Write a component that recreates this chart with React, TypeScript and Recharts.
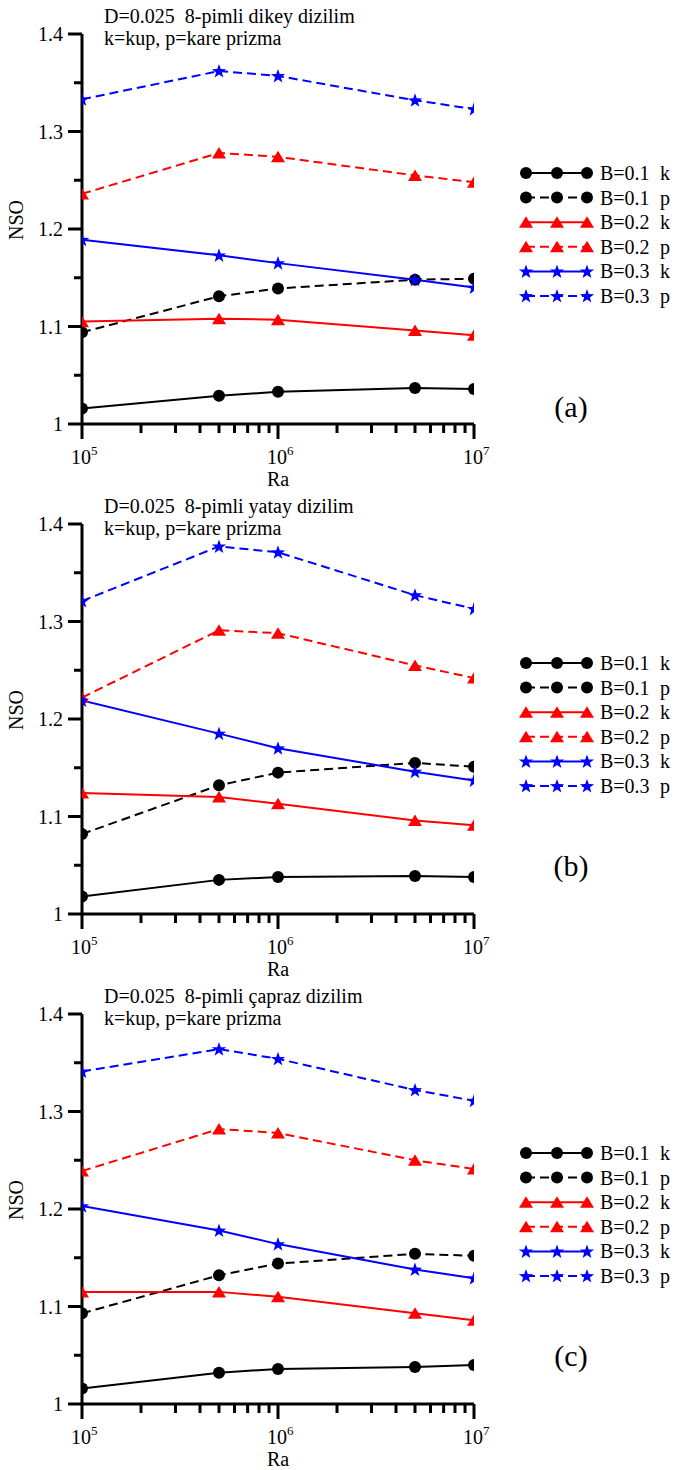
import React from "react";
import { LineChart, Line, XAxis, YAxis } from "recharts";

// Ra values on the x axis (log scale)
const raValues = [1e5, 5e5, 1e6, 5e6, 1e7];
const xTicks = [
  1e5, 2e5, 3e5, 4e5, 5e5, 6e5, 7e5, 8e5, 9e5,
  1e6, 2e6, 3e6, 4e6, 5e6, 6e6, 7e6, 8e6, 9e6, 1e7,
];
const xMajorTicks = [1e5, 1e6, 1e7];
const yTicks = [1, 1.05, 1.1, 1.15, 1.2, 1.25, 1.3, 1.35, 1.4];
const yMajorTicks = [1, 1.1, 1.2, 1.3, 1.4];

// (a) 8-pimli dikey dizilim
const dikeyB01k = [1.016, 1.029, 1.033, 1.037, 1.036];
const dikeyB01p = [1.094, 1.131, 1.139, 1.148, 1.149];
const dikeyB02k = [1.105, 1.108, 1.107, 1.096, 1.091];
const dikeyB02p = [1.236, 1.278, 1.274, 1.255, 1.248];
const dikeyB03k = [1.189, 1.173, 1.165, 1.148, 1.14];
const dikeyB03p = [1.333, 1.362, 1.357, 1.332, 1.323];

// (b) 8-pimli yatay dizilim
const yatayB01k = [1.018, 1.035, 1.038, 1.039, 1.038];
const yatayB01p = [1.082, 1.132, 1.145, 1.155, 1.151];
const yatayB02k = [1.124, 1.12, 1.113, 1.096, 1.091];
const yatayB02p = [1.222, 1.291, 1.288, 1.255, 1.242];
const yatayB03k = [1.219, 1.185, 1.17, 1.146, 1.137];
const yatayB03p = [1.321, 1.377, 1.371, 1.327, 1.313];

// (c) 8-pimli çapraz dizilim
const caprazB01k = [1.016, 1.032, 1.036, 1.038, 1.04];
const caprazB01p = [1.093, 1.132, 1.144, 1.154, 1.152];
const caprazB02k = [1.115, 1.115, 1.11, 1.093, 1.086];
const caprazB02p = [1.239, 1.282, 1.278, 1.25, 1.241];
const caprazB03k = [1.203, 1.178, 1.164, 1.138, 1.129];
const caprazB03p = [1.341, 1.364, 1.354, 1.322, 1.311];

const FONT = "Liberation Serif";

type Shape = "circle" | "triangle" | "star";

const seriesDefs: { key: string; label: string; suffix: string; color: string; dashed: boolean; shape: Shape }[] = [
  { key: "b01k", label: "B=0.1", suffix: "k", color: "#000", dashed: false, shape: "circle" },
  { key: "b01p", label: "B=0.1", suffix: "p", color: "#000", dashed: true, shape: "circle" },
  { key: "b02k", label: "B=0.2", suffix: "k", color: "#f00", dashed: false, shape: "triangle" },
  { key: "b02p", label: "B=0.2", suffix: "p", color: "#f00", dashed: true, shape: "triangle" },
  { key: "b03k", label: "B=0.3", suffix: "k", color: "#00f", dashed: false, shape: "star" },
  { key: "b03p", label: "B=0.3", suffix: "p", color: "#00f", dashed: true, shape: "star" },
];

const buildRows = (cols: number[][]) =>
  raValues.map((ra, i) => ({
    ra,
    b01k: cols[0][i],
    b01p: cols[1][i],
    b02k: cols[2][i],
    b02p: cols[3][i],
    b03k: cols[4][i],
    b03p: cols[5][i],
  }));

const panels = [
  {
    title: "D=0.025  8-pimli dikey dizilim",
    tag: "(a)",
    tagY: 417,
    rows: buildRows([dikeyB01k, dikeyB01p, dikeyB02k, dikeyB02p, dikeyB03k, dikeyB03p]),
  },
  {
    title: "D=0.025  8-pimli yatay dizilim",
    tag: "(b)",
    tagY: 386,
    rows: buildRows([yatayB01k, yatayB01p, yatayB02k, yatayB02p, yatayB03k, yatayB03p]),
  },
  {
    title: "D=0.025  8-pimli çapraz dizilim",
    tag: "(c)",
    tagY: 386,
    rows: buildRows([caprazB01k, caprazB01p, caprazB02k, caprazB02p, caprazB03k, caprazB03p]),
  },
];

const starPoints = (cx: number, cy: number, ro: number, ri: number) => {
  const pts: string[] = [];
  for (let i = 0; i < 10; i++) {
    const r = i % 2 === 0 ? ro : ri;
    const a = -Math.PI / 2 + (i * Math.PI) / 5;
    pts.push(`${(cx + r * Math.cos(a)).toFixed(2)},${(cy + r * Math.sin(a)).toFixed(2)}`);
  }
  return pts.join(" ");
};

const marker = (k: string, cx: number, cy: number, shape: Shape, color: string) => {
  if (shape === "circle") return <circle key={k} cx={cx} cy={cy} r={6} fill={color} />;
  if (shape === "star") return <polygon key={k} points={starPoints(cx, cy + 0.5, 7.5, 3)} fill={color} />;
  return <polygon key={k} points={`${cx},${cy - 6} ${cx - 7},${cy + 5.5} ${cx + 7},${cy + 5.5}`} fill={color} />;
};

const makeXTick = () => (props: any) => {
  const { x, y, payload } = props;
  const v = payload.value;
  const major = xMajorTicks.some((t) => Math.abs(t - v) < 1);
  const exp = Math.round(Math.log10(v));
  return (
    <g>
      <line x1={x} x2={x} y1={y} y2={y + (major ? 15 : 9)} stroke="#000" strokeWidth={3} />
      {major ? (
        <text x={x - 1} y={y + 40} textAnchor="middle" fontSize={20} fontFamily={FONT} fill="#000">
          10
        </text>
      ) : null}
      {major ? (
        <text x={x + 9} y={y + 31} fontSize={13} fontFamily={FONT} fill="#000">
          {exp}
        </text>
      ) : null}
    </g>
  );
};

const makeYTick = () => (props: any) => {
  const { x, y, payload } = props;
  const v = payload.value;
  const major = yMajorTicks.some((t) => Math.abs(t - v) < 1e-6);
  return (
    <g>
      <line x1={x} x2={x - (major ? 14 : 8)} y1={y} y2={y} stroke="#000" strokeWidth={3} />
      {major ? (
        <text x={x - 19} y={y + 7} textAnchor="end" fontSize={20} fontFamily={FONT} fill="#000">
          {v === 1 ? "1" : v.toFixed(1)}
        </text>
      ) : null}
    </g>
  );
};

// legend key, drawn beside the plot
const LegendKey = () => (
  <g>
    {seriesDefs.map((s, i) => {
      const cy = 173 + i * 24.6;
      return (
        <g key={s.key}>
          <line
            x1={526}
            x2={587}
            y1={cy}
            y2={cy}
            stroke={s.color}
            strokeWidth={2}
            strokeDasharray={s.dashed ? "9 5" : undefined}
          />
          {[526, 557, 587].map((mx) => marker(`${s.key}-${mx}`, mx, cy, s.shape, s.color))}
          <text x={600} y={cy + 7} fontSize={20} fontFamily={FONT} fill="#000">
            {s.label}
          </text>
          <text x={660} y={cy + 7} fontSize={20} fontFamily={FONT} fill="#000">
            {s.suffix}
          </text>
        </g>
      );
    })}
  </g>
);

const Panel = ({ panel }: { panel: (typeof panels)[number] }) => (
  <div style={{ position: "relative", width: 675, height: 490 }}>
    <LineChart width={675} height={490} data={panel.rows} margin={{ top: 34, right: 201, bottom: 26, left: 22 }}>
      <XAxis
        dataKey="ra"
        type="number"
        scale="log"
        domain={[1e5, 1e7]}
        ticks={xTicks}
        interval={0}
        tickSize={0}
        tickMargin={0}
        tickLine={false}
        tick={makeXTick()}
        axisLine={{ stroke: "#000", strokeWidth: 3 }}
        height={40}
        allowDataOverflow
      />
      <YAxis
        type="number"
        domain={[1, 1.4]}
        ticks={yTicks}
        interval={0}
        tickSize={0}
        tickMargin={0}
        tickLine={false}
        tick={makeYTick()}
        axisLine={{ stroke: "#000", strokeWidth: 3 }}
        width={60}
        allowDataOverflow
      />
      {seriesDefs.map((s) => (
        <Line
          key={s.key}
          dataKey={s.key}
          stroke={s.color}
          strokeWidth={2}
          strokeDasharray={s.dashed ? "9 5" : undefined}
          dot={(p: any) => marker(`${s.key}-${p.index}`, p.cx, p.cy, s.shape, s.color)}
          activeDot={false}
          isAnimationActive={false}
        />
      ))}
    </LineChart>
    <svg width={675} height={490} style={{ position: "absolute", left: 0, top: 0, pointerEvents: "none" }}>
      <text x={104} y={23} fontSize={20} fontFamily={FONT} fill="#000" style={{ whiteSpace: "pre" }}>
        {panel.title}
      </text>
      <text x={104} y={45} fontSize={20} fontFamily={FONT} fill="#000">
        k=kup, p=kare prizma
      </text>
      <text x={23} y={220} fontSize={20} fontFamily={FONT} fill="#000" textAnchor="middle" transform="rotate(-90 23 220)">
        NSO
      </text>
      <text x={278} y={486} fontSize={20} fontFamily={FONT} fill="#000" textAnchor="middle">
        Ra
      </text>
      <text x={571} y={panel.tagY} fontSize={30} fontFamily={FONT} fill="#000" textAnchor="middle">
        {panel.tag}
      </text>
      <LegendKey />
    </svg>
  </div>
);

export default function App() {
  return (
    <div style={{ position: "absolute", left: 0, top: 0, width: 675, height: 1470, background: "#fff" }}>
      {panels.map((p) => (
        <Panel key={p.tag} panel={p} />
      ))}
    </div>
  );
}
